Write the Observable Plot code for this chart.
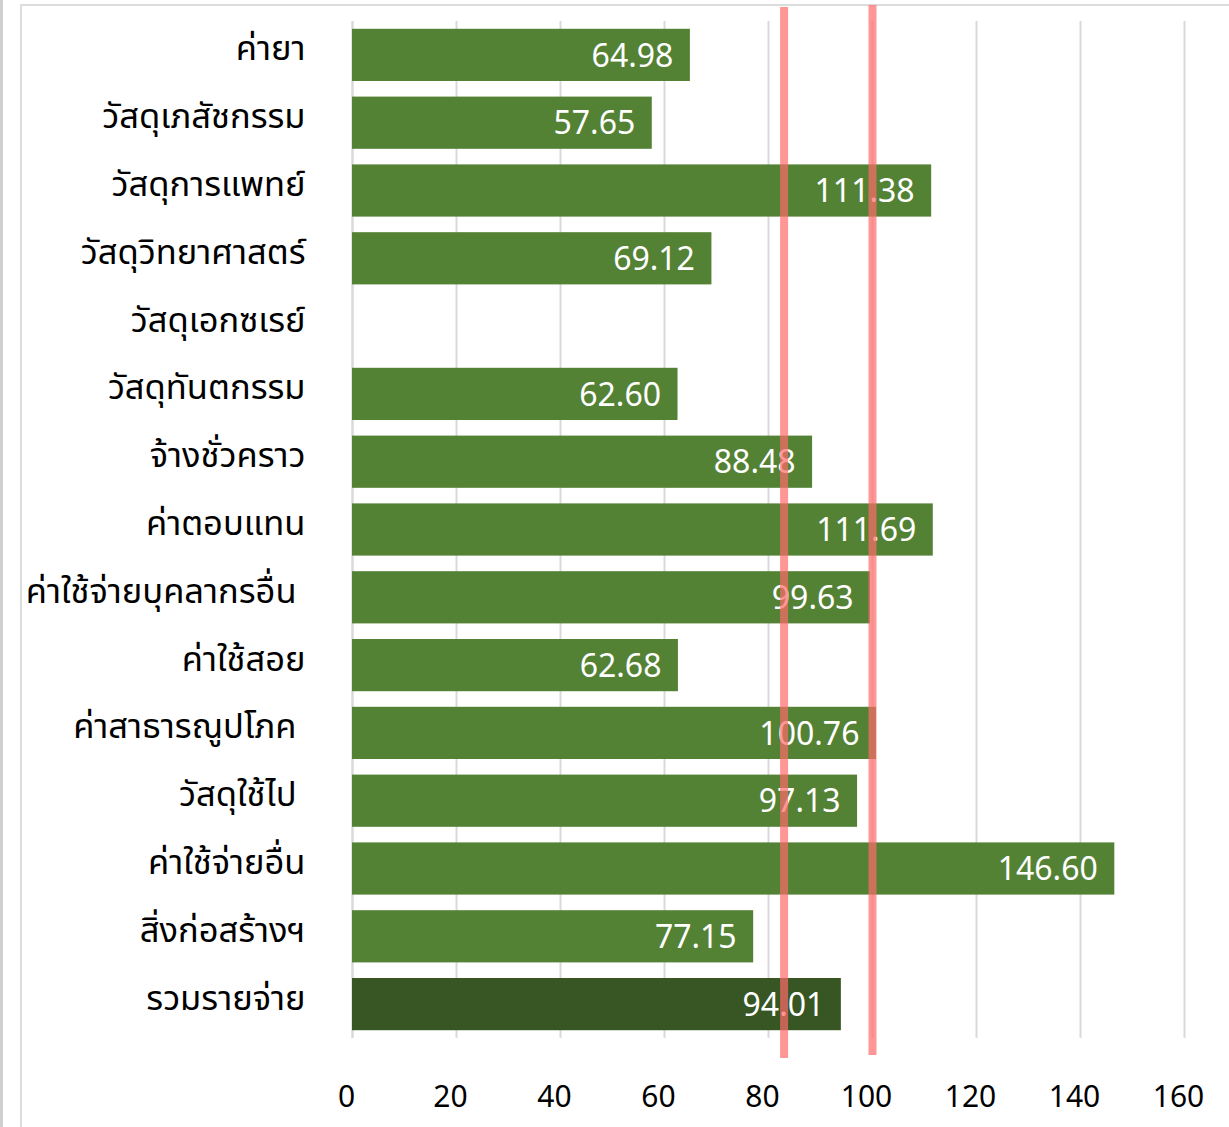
<!DOCTYPE html>
<html>
<head>
<meta charset="utf-8">
<script src="https://cdn.jsdelivr.net/npm/d3@7"></script>
<script src="https://cdn.jsdelivr.net/npm/@observablehq/plot@0.6"></script>
<style>
  html, body { margin: 0; padding: 0; background: #fff; }
  #wrap { position: relative; width: 1229px; height: 1127px; overflow: hidden; }
  #edge { position: absolute; left: 0; top: 0; width: 3px; height: 1127px; background: #cfcfcf; }
  #frame { position: absolute; left: 20px; top: 4px; width: 1240px; height: 1140px; border: 2px solid #dcdcdc; box-sizing: border-box; }
  #chart { position: absolute; left: 0; top: 0; }
  #chart svg text { white-space: pre; }
</style>
</head>
<body>
<div id="wrap">
  <div id="edge"></div>
  <div id="frame"></div>
  <div id="chart"></div>
</div>
<script>
const categories = [
  "ค่ายา",
  "วัสดุเภสัชกรรม",
  "วัสดุการแพทย์",
  "วัสดุวิทยาศาสตร์",
  "วัสดุเอกซเรย์",
  "วัสดุทันตกรรม",
  "จ้างชั่วคราว",
  "ค่าตอบแทน",
  "ค่าใช้จ่ายบุคลากรอื่น ",
  "ค่าใช้สอย",
  "ค่าสาธารณูปโภค ",
  "วัสดุใช้ไป ",
  "ค่าใช้จ่ายอื่น",
  "สิ่งก่อสร้างฯ",
  "รวมรายจ่าย"
];
const values = [64.98, 57.65, 111.38, 69.12, null, 62.60, 88.48, 111.69, 99.63, 62.68, 100.76, 97.13, 146.60, 77.15, 94.01];
const referenceLines = [83, 100];
const xTicks = [0, 20, 40, 60, 80, 100, 120, 140, 160];
const totalLabel = "รวมรายจ่าย";

const data = categories.map((c, i) => ({category: c, value: values[i]}));
const barData = data.filter(d => d.value != null);

const font = "'Noto Sans', 'Noto Sans Thai', 'Open Sans', sans-serif";

const chart = Plot.plot({
  width: 1229,
  height: 1127,
  marginLeft: 352,
  marginRight: 45,
  marginTop: 21,
  marginBottom: 89,
  style: { fontFamily: font, fontSize: "30px", color: "#000", background: "transparent" },
  x: { domain: [0, 160], ticks: xTicks, label: null },
  y: { domain: categories, paddingInner: 0.23, paddingOuter: 0.115, round: false, label: null },
  marks: [
    Plot.gridX(xTicks, { stroke: "#d9d9d9", strokeOpacity: 1, strokeWidth: 2 }),
    Plot.ruleX([0], { stroke: "#d9d9d9", strokeWidth: 2 }),
    Plot.barX(barData, {
      x: "value", y: "category",
      fill: d => d.category === totalLabel ? "#375623" : "#548235"
    }),
    Plot.text(barData, {
      x: "value", y: "category",
      text: d => d.value.toFixed(2),
      textAnchor: "end", dx: -17, dy: 1,
      fill: "#fff", fontSize: 32, fontFamily: font
    }),
    Plot.ruleX([referenceLines[0]], { stroke: "#ff6b6b", strokeOpacity: 0.7, strokeWidth: 8, insetTop: -14, insetBottom: -20 }),
    Plot.ruleX([referenceLines[1]], { stroke: "#ff6b6b", strokeOpacity: 0.7, strokeWidth: 8, insetTop: -16, insetBottom: -17 }),
    Plot.axisX(xTicks, { tickSize: 0, tickPadding: 47, dx: -6, fontSize: 30, fill: "#000", label: null }),
    Plot.axisY({ tickSize: 0, tickPadding: 47, fontSize: 34.5, fill: "#000", label: null, dy: -6 })
  ]
});
document.getElementById("chart").appendChild(chart);
</script>
</body>
</html>
